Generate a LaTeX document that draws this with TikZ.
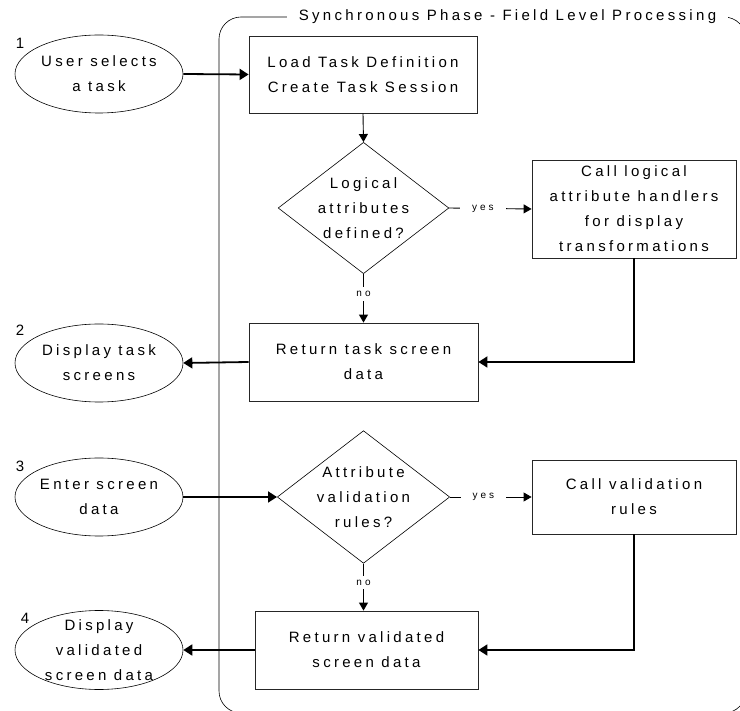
\documentclass[tikz,border=0pt]{standalone}
\usepackage{fontspec}
\setmainfont{Liberation Sans}[LetterSpace=22]
\newfontfamily\tinyfont{Liberation Sans}[LetterSpace=30]
\usepackage{tikz}
\usetikzlibrary{shapes.geometric,arrows.meta}
\tikzstyle{base}=[font=\fontsize{15}{25}\selectfont, align=center]
\tikzstyle{process}=[base, rectangle, draw=black!85, line width=0.8pt, inner sep=0pt]
\tikzstyle{decision}=[base, diamond, draw, line width=0.6pt, aspect=1.3, inner sep=0pt, minimum width=167pt, minimum height=129pt]
\tikzstyle{terminal}=[base, ellipse, draw, line width=0.6pt, inner sep=0pt, minimum width=168pt, minimum height=78pt]
\tikzstyle{num}=[font=\fontsize{15}{18}\selectfont, inner sep=0pt]
\tikzstyle{flow}=[line width=1.8pt, -{Triangle[length=9pt,width=11pt]}]
\tikzstyle{link}=[line width=0.9pt, -{Triangle[length=8pt,width=9pt]}]
\tikzstyle{answer}=[font=\tinyfont\fontsize{10}{12}\selectfont, fill=white, inner xsep=12pt, inner ysep=4pt]

\begin{document}
\begin{tikzpicture}[x=1pt, y=-1pt]
    \useasboundingbox (0,0) rectangle (740,711);
    \clip (0,0) rectangle (740,711);
    % the phase frame, running off the page on the right
    \draw[line width=0.6pt, rounded corners=22pt] (219,17) rectangle (746,713);
    \node[base, fill=white, inner xsep=12pt, inner ysep=2pt] (title) at (507.5,17)
      {Synchronous Phase - Field Level Processing};

    % user side
    \node[terminal] (select) at (99,74) {User selects\\a task};
    \node[terminal] (show) at (99,363) {Display task\\screens};
    \node[terminal] (enter) at (99,497) {Enter screen\\data};
    \node[terminal, inner ysep=-6pt, minimum height=79pt] (showval) at (99,650)
      {Display\\validated\\screen data};
    \foreach \n/\y in {1/43, 2/330, 3/466}
      \node[num] (num\n) at (20,\y) {\n};
    \node[num] (num4) at (25,618) {4};

    % field level processing
    \node[process, minimum width=228pt, minimum height=77pt] (load) at (363,74.5)
      {Load Task Definition\\Create Task Session};
    \node[decision] (logic) at (363.5,208) {Logical\\attributes\\defined?};
    \node[process, minimum width=204pt, minimum height=98pt] (handlers) at (634,209)
      {Call logical\\attribute handlers\\for display\\transformations};
    \node[process, minimum width=229pt, minimum height=78pt] (retscreen) at (363.5,362)
      {Return task screen\\data};
    \node[decision] (valid) at (363.5,497) {Attribute\\validation\\rules?};
    \node[process, minimum width=204pt, minimum height=74pt] (callval) at (634,497)
      {Call validation\\rules};
    \node[process, minimum width=223pt, minimum height=78pt] (retval) at (366.5,650)
      {Return validated\\screen data};

    % connectors
    \draw[flow] (select.east) -- (load.west);
    \draw[link] (load.south) -- (logic.north);
    \draw[link] (logic.east) -- node[answer, pos=0.41] {yes} (handlers.west);
    \draw[link] (logic.south) -- node[answer, pos=0.41] {no} (retscreen.north);
    \draw[flow] (handlers.south) |- (retscreen.east);
    \draw[flow] (retscreen.west) -- (show.east);

    \draw[flow] (enter.east) -- (valid.west);
    \draw[link] (valid.east) -- node[answer, pos=0.41] {yes} (callval.west);
    \draw[link] (valid.south) -- node[answer, pos=0.4] {no} (valid.south |- retval.north);
    \draw[flow] (callval.south) |- (retval.east);
    \draw[flow] (retval.west) -- (showval.east);
\end{tikzpicture}
\end{document}
